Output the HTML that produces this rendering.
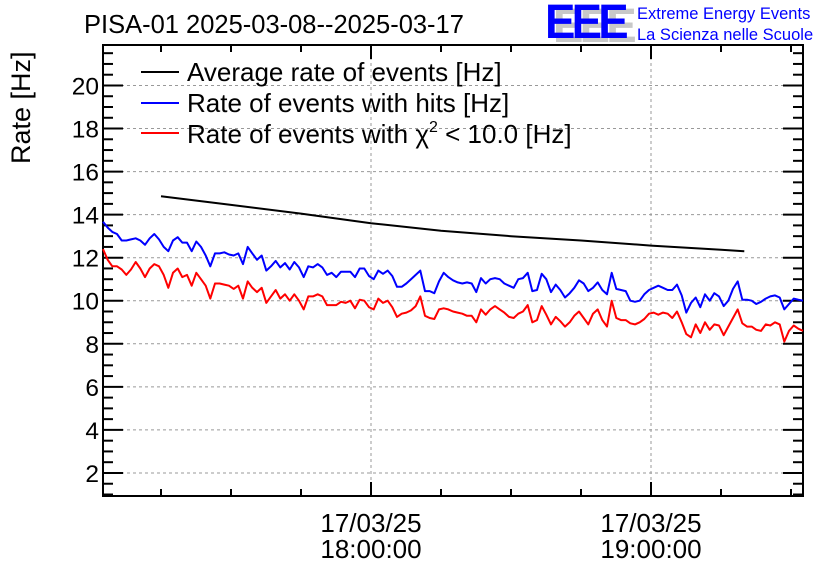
<!DOCTYPE html>
<html><head><meta charset="utf-8"><style>
html,body{margin:0;padding:0;background:#fff}
svg text{font-family:"Liberation Sans",sans-serif}
</style></head><body>
<svg id="chart" width="836" height="572" viewBox="0 0 836 572" xmlns="http://www.w3.org/2000/svg">
<rect width="836" height="572" fill="#fff"/>
<text x="84" y="33" font-size="25.5">PISA-01 2025-03-08--2025-03-17</text>
<g>
<text x="553" y="42" font-size="48" fill="#c8c8c8" font-weight="bold" letter-spacing="-4" transform="translate(553,0) scale(0.95,1) translate(-553,0)">EEE</text>
<text x="545" y="38" font-size="48" fill="#0000ff" font-weight="bold" letter-spacing="-4" transform="translate(545,0) scale(0.95,1) translate(-545,0)">EEE</text>
<text x="637" y="19" font-size="16.5" fill="#0000ff">Extreme Energy Events</text>
<text x="637" y="40" font-size="16.5" fill="#0000ff">La Scienza nelle Scuole</text>
</g>
<text transform="translate(30,164) rotate(-90)" font-size="27">Rate [Hz]</text>
<g id="grid"></g><g id="axes"></g><g id="series"></g>
<g>
<g><line x1="141" y1="72" x2="179" y2="72" stroke="#000" stroke-width="2"/><text x="187" y="81" font-size="26">Average rate of events [Hz]</text></g>
<g><line x1="141" y1="103" x2="179" y2="103" stroke="#0000ff" stroke-width="2"/><text x="187" y="112" font-size="26">Rate of events with hits [Hz]</text></g>
<g><line x1="141" y1="133" x2="179" y2="133" stroke="#ff0000" stroke-width="2"/><text x="187" y="143" font-size="26">Rate of events with χ<tspan font-size="16" dy="-11">2</tspan><tspan dy="11"> &lt; 10.0 [Hz]</tspan></text></g>
</g>
</svg>
<script>
const xStart = 2.57, xEnd = 152.57, stepMin = 1;
const yTicks = [2,4,6,8,10,12,14,16,18,20];
const xTickLabels = [["17/03/25","18:00:00",60],["17/03/25","19:00:00",120]];
const blueRate = [13.67,13.4,13.2,13.1,12.8,12.8,12.85,12.9,12.8,12.6,12.9,13.1,12.85,12.5,12.3,12.8,12.95,12.7,12.7,12.3,12.75,12.5,12.1,11.6,12.2,12.2,12.25,12.15,12.1,12.2,11.7,12.5,12.2,11.9,12.1,11.4,11.6,11.85,11.55,11.75,11.45,11.8,11.55,11.1,11.6,11.55,11.7,11.55,11.2,11.3,11.1,11.35,11.35,11.35,11.1,11.5,11.5,11.15,11.0,11.4,11.25,11.4,11.15,10.65,10.65,10.8,11.0,11.2,11.4,10.45,10.45,10.35,10.9,11.3,11.1,10.95,10.85,10.8,10.85,10.8,10.4,11.05,10.8,11.0,11.05,11.0,10.8,10.7,10.6,11.0,11.05,11.3,10.45,10.5,11.25,11.0,10.4,10.75,10.5,10.15,10.35,10.6,10.95,10.8,10.45,10.6,10.85,10.5,10.3,11.3,10.55,10.5,10.45,10.0,9.95,10.0,10.3,10.5,10.6,10.7,10.6,10.5,10.5,10.75,10.25,9.45,9.9,10.15,9.7,10.3,10.0,10.35,10.2,9.75,10.0,10.55,10.9,10.05,10.05,10.0,9.85,9.95,10.1,10.2,10.25,10.15,9.6,9.85,10.1,10.05,10.0];
const redRate = [12.4,11.9,11.6,11.6,11.45,11.2,11.45,11.8,11.5,11.1,11.5,11.7,11.6,11.2,10.6,11.3,11.5,11.1,11.2,10.7,11.3,11.0,10.7,10.1,10.8,10.8,10.75,10.7,10.55,10.7,10.1,10.9,10.6,10.4,10.6,9.9,10.2,10.5,10.1,10.3,10.0,10.3,10.0,9.6,10.2,10.2,10.3,10.2,9.8,9.8,9.8,9.95,9.9,10.0,9.65,10.05,10.0,9.7,9.6,10.1,9.9,10.0,9.7,9.25,9.4,9.45,9.55,9.75,10.2,9.3,9.2,9.15,9.6,9.65,9.6,9.5,9.45,9.4,9.3,9.3,9.0,9.6,9.35,9.6,9.75,9.6,9.45,9.25,9.2,9.4,9.5,9.8,9.0,9.1,9.75,9.35,8.9,9.25,9.05,8.8,9.0,9.3,9.5,9.2,8.9,9.4,9.6,9.1,8.8,10.0,9.2,9.1,9.1,8.95,8.9,9.0,9.15,9.4,9.45,9.35,9.45,9.4,9.2,9.5,9.0,8.45,8.3,8.9,8.5,9.0,8.65,8.9,8.85,8.4,8.8,9.2,9.6,8.95,8.8,8.8,8.65,8.6,8.9,8.85,9.0,8.9,8.1,8.6,8.85,8.7,8.6];
const avgTimes = [15,30,45,60,75,90,105,120,135,140];
const avgRate = [14.85,14.45,14.05,13.6,13.25,13.0,12.8,12.56,12.37,12.3];

const L=103,R=803,T=45,B=496;
const yTop=21.88, yBot=0.93;
function X(t){return L+(t-xStart)/(xEnd-xStart)*(R-L);}
function Y(v){return T+(yTop-v)/(yTop-yBot)*(B-T);}
const NS="http://www.w3.org/2000/svg";
function mk(tag,attrs,parent){const e=document.createElementNS(NS,tag);for(const k in attrs)e.setAttribute(k,attrs[k]);parent.appendChild(e);return e;}
const grid=document.getElementById('grid'),axes=document.getElementById('axes'),ser=document.getElementById('series');
yTicks.forEach(v=>{
  const gl=mk('line',{x1:L,x2:R,y1:Y(v),y2:Y(v),stroke:'#999','stroke-dasharray':'3,3','stroke-width':1},grid);
  
  
  const t=mk('text',{x:L-4,y:Y(v)+9,'text-anchor':'end','font-size':24.5},axes);
  t.textContent=v;
  
  
});
for(let v=1;v<=21.5;v+=0.5){
  const major=(v%2===0), len=major?20:10;
  mk('line',{x1:L,x2:L+len,y1:Y(v),y2:Y(v),stroke:'#000','stroke-width':2},axes);
  mk('line',{x1:R-len,x2:R,y1:Y(v),y2:Y(v),stroke:'#000','stroke-width':2},axes);
}
for(let t=15;t<=150;t+=15){
  const major=(t%60===0), len=major?14:7;
  mk('line',{x1:X(t),x2:X(t),y1:B,y2:B-len,stroke:'#000','stroke-width':2},axes);
  mk('line',{x1:X(t),x2:X(t),y1:T,y2:T+len,stroke:'#000','stroke-width':2},axes);
}
xTickLabels.forEach(d=>{
  const gl=mk('line',{x1:X(d[2]),x2:X(d[2]),y1:T,y2:B,stroke:'#999','stroke-dasharray':'3,3','stroke-width':1},grid);
  
  
  const t1=mk('text',{x:X(d[2]),y:532,'text-anchor':'middle','font-size':26},axes);
  t1.textContent=d[0];
  
  
  const t2=mk('text',{x:X(d[2]),y:558,'text-anchor':'middle','font-size':26},axes);
  t2.textContent=d[1];
  
  
});
const frame=mk('rect',{x:L,y:T,width:R-L,height:B-T,fill:'none',stroke:'#000','stroke-width':2},axes);


function line(times,vals,color,name){
  const pts=vals.map((v,i)=>X(times?times[i]:xStart+i*stepMin).toFixed(1)+','+Y(v).toFixed(1)).join(' ');
  const p=mk('polyline',{points:pts,fill:'none',stroke:color,'stroke-width':2,'stroke-linejoin':'round'},ser);
  
  
}
line(null,redRate,'#ff0000','chi2-rate-line');
line(null,blueRate,'#0000ff','hits-rate-line');
line(avgTimes,avgRate,'#000000','average-rate-line');
</script>
</body></html>
